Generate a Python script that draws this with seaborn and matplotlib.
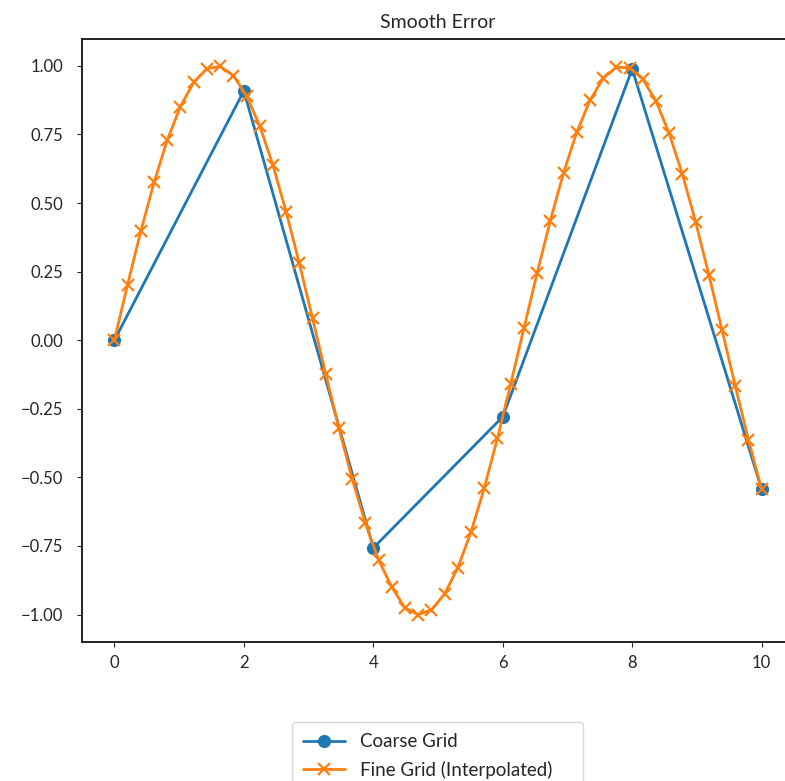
import matplotlib
matplotlib.use("Agg")
import matplotlib.pyplot as plt
import seaborn as sns

# Coarse grid samples
coarse_x = [0, 2, 4, 6, 8, 10]
coarse_y = [0.0, 0.909, -0.757, -0.279, 0.989, -0.544]

# Fine grid samples (interpolated)
fine_x = [0.0, 0.204, 0.408, 0.612, 0.816, 1.020, 1.224, 1.429, 1.633, 1.837,
          2.041, 2.245, 2.449, 2.653, 2.857, 3.061, 3.265, 3.469, 3.673, 3.878,
          4.082, 4.286, 4.490, 4.694, 4.898, 5.102, 5.306, 5.510, 5.714, 5.918,
          6.122, 6.327, 6.531, 6.735, 6.939, 7.143, 7.347, 7.551, 7.755, 7.959,
          8.163, 8.367, 8.571, 8.776, 8.980, 9.184, 9.388, 9.592, 9.796, 10.0]
fine_y = [0.0, 0.203, 0.397, 0.575, 0.729, 0.852, 0.940, 0.990, 0.998, 0.965,
          0.892, 0.782, 0.638, 0.469, 0.280, 0.080, -0.123, -0.321, -0.505, -0.667,
          -0.801, -0.900, -0.976, -1.000, -0.983, -0.925, -0.829, -0.699, -0.539, -0.357,
          -0.160, 0.043, 0.245, 0.436, 0.610, 0.758, 0.874, 0.955, 0.995, 0.994,
          0.952, 0.872, 0.754, 0.605, 0.431, 0.239, 0.037, -0.167, -0.363, -0.544]

sns.set_style("ticks")
plt.rcParams["font.family"] = ["Lato", "DejaVu Sans"]
plt.rcParams["axes.unicode_minus"] = True

fig = plt.figure(figsize=(7.85, 7.81), dpi=100)
ax = fig.add_axes([0.1045, 0.178, 0.907, 0.772])

blue, orange = "#1f77b4", "#ff7f0e"
sns.lineplot(x=coarse_x, y=coarse_y, marker="o", markersize=9.5, markeredgewidth=0,
             markeredgecolor=blue, linewidth=2, color=blue, label="Coarse Grid", ax=ax)
sns.lineplot(x=fine_x, y=fine_y, marker="x", markersize=9, markeredgewidth=1.6,
             markeredgecolor=orange, linewidth=2, color=orange,
             label="Fine Grid (Interpolated)", ax=ax)

ax.set_xlim(-0.5, 10.5)
ax.set_title("Smooth Error", fontsize=14, pad=8)
ax.tick_params(labelsize=12)
ax.tick_params(axis="y", pad=10)
ax.tick_params(axis="x", pad=6)
for s in ax.spines.values():
    s.set_linewidth(1.4)
    s.set_color("#222222")

ax.legend(loc="upper left", bbox_to_anchor=(0.295, -0.1327, 0.409, 0), mode="expand",
          borderaxespad=0, fontsize=13.5, labelspacing=0.55, handlelength=2.2,
          borderpad=0.6)

fig.savefig("out.png", dpi=100)
